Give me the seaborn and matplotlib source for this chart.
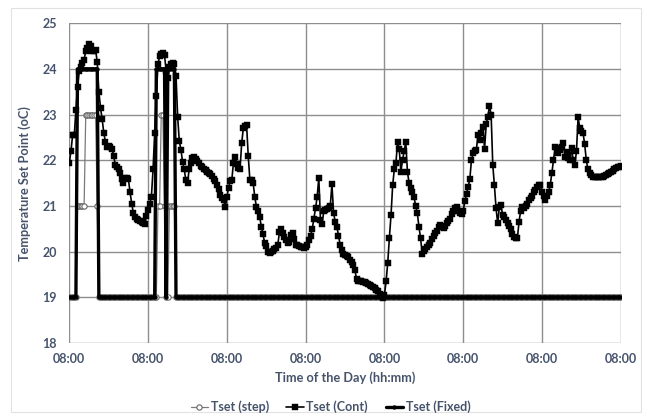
import matplotlib
matplotlib.use("Agg")
import matplotlib.pyplot as plt
import matplotlib.dates as mdates
from matplotlib.patches import Rectangle
import pandas as pd
import seaborn as sns

# Half-hourly set points over one week, each day starting at 08:00
start_time = "2015-07-01 08:00"
step_minutes = 30

tset_cont = [
    # day 1
    21.95, 22.2, 22.55, 22.55, 23.1, 23.6, 23.95, 24.05, 24.12, 24.2, 24.4, 24.45,
    24.55, 24.5, 24.4, 24.4, 24.42, 24.15, 23.5, 23.15, 22.9, 22.6, 22.4, 22.3,
    22.32, 22.3, 22.25, 22.1, 21.9, 21.85, 21.82, 21.72, 21.6, 21.5, 21.62, 21.62,
    21.58, 21.3, 21.05, 20.85, 20.75, 20.72, 20.7, 20.68, 20.66, 20.63, 20.6, 20.78,
    # day 2
    20.92, 21.05, 21.2, 21.8, 22.6, 23.4, 24.1, 24.28, 24.33, 24.36, 24.3, 23.95,
    23.8, 24.05, 24.1, 24.12, 24.1, 23.85, 22.95, 22.42, 22.23, 21.97, 21.8, 21.57,
    21.5, 21.8, 21.95, 22.05, 22.07, 22.02, 21.98, 21.94, 21.88, 21.85, 21.82, 21.79,
    21.75, 21.72, 21.7, 21.65, 21.6, 21.55, 21.45, 21.38, 21.25, 21.18, 21.12, 20.98,
    # day 3
    21.2, 21.4, 21.55, 21.57, 21.95, 22.07, 21.92, 21.83, 21.8, 22.37, 22.7, 22.75,
    22.77, 22.1, 21.57, 21.57, 21.5, 21.2, 20.98, 20.88, 20.75, 20.55, 20.38, 20.2,
    20.12, 20.0, 19.98, 20.0, 20.02, 20.05, 20.08, 20.15, 20.42, 20.5, 20.4, 20.33,
    20.26, 20.2, 20.22, 20.36, 20.4, 20.28, 20.15, 20.14, 20.12, 20.11, 20.1, 20.09,
    # day 4
    20.1, 20.15, 20.25, 20.35, 20.5, 20.72, 20.95, 21.2, 21.62, 20.7, 20.6, 20.88,
    20.92, 20.93, 20.95, 21.0, 21.48, 20.85, 20.65, 20.55, 20.35, 20.15, 20.03, 19.95,
    19.92, 19.9, 19.88, 19.82, 19.78, 19.7, 19.6, 19.4, 19.36, 19.35, 19.35, 19.34,
    19.33, 19.31, 19.3, 19.27, 19.24, 19.22, 19.2, 19.16, 19.13, 19.08, 19.03, 18.99,
    # day 5
    19.05, 19.35, 19.75, 20.3, 20.8, 21.45, 21.8, 21.95, 22.4, 22.25, 21.75, 22.0,
    22.2, 22.4, 21.75, 21.5, 21.4, 21.3, 21.2, 21.0, 20.85, 20.55, 20.3, 19.95,
    20.02, 20.05, 20.1, 20.15, 20.2, 20.28, 20.35, 20.4, 20.45, 20.55, 20.58, 20.55,
    20.52, 20.57, 20.62, 20.68, 20.72, 20.82, 20.9, 20.95, 20.98, 20.9, 20.85, 20.82,
    # day 6
    20.9, 21.1, 21.26, 21.42, 21.58, 22.0, 22.15, 22.2, 22.23, 22.55, 22.45, 22.6,
    22.72, 22.25, 22.8, 22.95, 23.2, 23.0, 21.9, 21.45, 20.95, 20.62, 20.98, 21.02,
    20.8, 20.75, 20.7, 20.63, 20.57, 20.5, 20.38, 20.32, 20.3, 20.3, 20.65, 20.9,
    20.97, 20.95, 21.0, 21.05, 21.12, 21.17, 21.22, 21.3, 21.35, 21.42, 21.46, 21.45,
    # day 7 (plus closing 08:00 reading)
    21.3, 21.22, 21.13, 21.22, 21.3, 21.45, 21.72, 22.0, 22.3, 22.28, 22.15, 22.22,
    22.3, 22.37, 22.08, 22.18, 22.05, 22.0, 22.28, 22.0, 21.9, 22.2, 22.95, 22.7,
    22.65, 22.6, 22.35, 22.0, 21.8, 21.72, 21.68, 21.64, 21.63, 21.63, 21.63, 21.64,
    21.64, 21.64, 21.66, 21.68, 21.7, 21.72, 21.74, 21.77, 21.82, 21.84, 21.86, 21.86,
    21.87,
]

tset_step = [
    # day 1
    19, 19, 19, 19, 19, 21, 21, 21, 21, 21, 23, 23, 23, 23, 23, 23, 23, 21, 19, 19, 19, 19, 19, 19,
    19, 19, 19, 19, 19, 19, 19, 19, 19, 19, 19, 19, 19, 19, 19, 19, 19, 19, 19, 19, 19, 19, 19, 19,
    # day 2
    19, 19, 19, 19, 19, 19, 21, 21, 23, 23, 21, 19, 19, 21, 21, 21, 21, 19, 19, 19, 19, 19, 19, 19,
    19, 19, 19, 19, 19, 19, 19, 19, 19, 19, 19, 19, 19, 19, 19, 19, 19, 19, 19, 19, 19, 19, 19, 19,
    # day 3
    19, 19, 19, 19, 19, 19, 19, 19, 19, 19, 19, 19, 19, 19, 19, 19, 19, 19, 19, 19, 19, 19, 19, 19,
    19, 19, 19, 19, 19, 19, 19, 19, 19, 19, 19, 19, 19, 19, 19, 19, 19, 19, 19, 19, 19, 19, 19, 19,
    # day 4
    19, 19, 19, 19, 19, 19, 19, 19, 19, 19, 19, 19, 19, 19, 19, 19, 19, 19, 19, 19, 19, 19, 19, 19,
    19, 19, 19, 19, 19, 19, 19, 19, 19, 19, 19, 19, 19, 19, 19, 19, 19, 19, 19, 19, 19, 19, 19, 19,
    # day 5
    19, 19, 19, 19, 19, 19, 19, 19, 19, 19, 19, 19, 19, 19, 19, 19, 19, 19, 19, 19, 19, 19, 19, 19,
    19, 19, 19, 19, 19, 19, 19, 19, 19, 19, 19, 19, 19, 19, 19, 19, 19, 19, 19, 19, 19, 19, 19, 19,
    # day 6
    19, 19, 19, 19, 19, 19, 19, 19, 19, 19, 19, 19, 19, 19, 19, 19, 19, 19, 19, 19, 19, 19, 19, 19,
    19, 19, 19, 19, 19, 19, 19, 19, 19, 19, 19, 19, 19, 19, 19, 19, 19, 19, 19, 19, 19, 19, 19, 19,
    # day 7
    19, 19, 19, 19, 19, 19, 19, 19, 19, 19, 19, 19, 19, 19, 19, 19, 19, 19, 19, 19, 19, 19, 19, 19,
    19, 19, 19, 19, 19, 19, 19, 19, 19, 19, 19, 19, 19, 19, 19, 19, 19, 19, 19, 19, 19, 19, 19, 19,
    19,
]

tset_fixed = [
    # day 1
    19, 19, 19, 19, 19, 24, 24, 24, 24, 24, 24, 24, 24, 24, 24, 24, 24, 24, 19, 19, 19, 19, 19, 19,
    19, 19, 19, 19, 19, 19, 19, 19, 19, 19, 19, 19, 19, 19, 19, 19, 19, 19, 19, 19, 19, 19, 19, 19,
    # day 2
    19, 19, 19, 19, 19, 24, 24, 24, 24, 24, 24, 19, 24, 24, 24, 24, 24, 19, 19, 19, 19, 19, 19, 19,
    19, 19, 19, 19, 19, 19, 19, 19, 19, 19, 19, 19, 19, 19, 19, 19, 19, 19, 19, 19, 19, 19, 19, 19,
    # day 3
    19, 19, 19, 19, 19, 19, 19, 19, 19, 19, 19, 19, 19, 19, 19, 19, 19, 19, 19, 19, 19, 19, 19, 19,
    19, 19, 19, 19, 19, 19, 19, 19, 19, 19, 19, 19, 19, 19, 19, 19, 19, 19, 19, 19, 19, 19, 19, 19,
    # day 4
    19, 19, 19, 19, 19, 19, 19, 19, 19, 19, 19, 19, 19, 19, 19, 19, 19, 19, 19, 19, 19, 19, 19, 19,
    19, 19, 19, 19, 19, 19, 19, 19, 19, 19, 19, 19, 19, 19, 19, 19, 19, 19, 19, 19, 19, 19, 19, 19,
    # day 5
    19, 19, 19, 19, 19, 19, 19, 19, 19, 19, 19, 19, 19, 19, 19, 19, 19, 19, 19, 19, 19, 19, 19, 19,
    19, 19, 19, 19, 19, 19, 19, 19, 19, 19, 19, 19, 19, 19, 19, 19, 19, 19, 19, 19, 19, 19, 19, 19,
    # day 6
    19, 19, 19, 19, 19, 19, 19, 19, 19, 19, 19, 19, 19, 19, 19, 19, 19, 19, 19, 19, 19, 19, 19, 19,
    19, 19, 19, 19, 19, 19, 19, 19, 19, 19, 19, 19, 19, 19, 19, 19, 19, 19, 19, 19, 19, 19, 19, 19,
    # day 7
    19, 19, 19, 19, 19, 19, 19, 19, 19, 19, 19, 19, 19, 19, 19, 19, 19, 19, 19, 19, 19, 19, 19, 19,
    19, 19, 19, 19, 19, 19, 19, 19, 19, 19, 19, 19, 19, 19, 19, 19, 19, 19, 19, 19, 19, 19, 19, 19,
    19,
]

series_names = ["Tset (step)", "Tset (Cont)", "Tset (Fixed)"]
y_ticks = [18, 19, 20, 21, 22, 23, 24, 25]
x_title = "Time of the Day (hh:mm)"
y_title = "Temperature Set Point (oC)"

times = pd.date_range(start_time, periods=len(tset_cont), freq=f"{step_minutes}min")
df = pd.DataFrame({"time": times, "step": tset_step, "cont": tset_cont, "fixed": tset_fixed})

sns.set_theme(style="white")
plt.rcParams["font.family"] = ["Lato", "DejaVu Sans"]
text_color = "#46536b"
grid_color = "#8e8e8e"

fig = plt.figure(figsize=(6.48, 4.19), dpi=100)
fig.patch.set_facecolor("white")
fig.add_artist(Rectangle((0.017, 0.016), 0.972, 0.966, transform=fig.transFigure,
                         fill=False, edgecolor="#e2e2e2", linewidth=0.8))
ax = fig.add_axes([0.107, 0.1814, 0.851, 0.763])

sns.lineplot(data=df, x="time", y="step", ax=ax, color="#7a7a7a", linewidth=0.9,
             marker="o", markersize=3.8, markerfacecolor="white",
             markeredgecolor="#666666", markeredgewidth=0.8,
             label=series_names[0], zorder=3)
sns.lineplot(data=df, x="time", y="cont", ax=ax, color="black", linewidth=1.2,
             marker="s", markersize=4.2, markerfacecolor="black",
             markeredgecolor="black", markeredgewidth=0.3,
             label=series_names[1], zorder=4)
sns.lineplot(data=df, x="time", y="fixed", ax=ax, color="black", linewidth=2.4,
             marker="o", markersize=2.8, markerfacecolor="black",
             markeredgecolor="black", markeredgewidth=0.3,
             label=series_names[2], zorder=5)

ax.set_xlim(times[0], times[-1])
ax.set_ylim(y_ticks[0], y_ticks[-1])
ax.set_yticks(y_ticks)
ax.set_yticklabels([str(v) for v in y_ticks])
ax.xaxis.set_major_locator(mdates.HourLocator(byhour=[8]))
ax.xaxis.set_major_formatter(mdates.DateFormatter("%H:%M"))

ax.grid(True, color=grid_color, linewidth=1.0)
ax.set_axisbelow(True)
for s in ax.spines.values():
    s.set_visible(False)
ax.tick_params(axis="both", length=0, labelsize=9, colors=text_color)
ax.tick_params(axis="y", pad=9)
ax.tick_params(axis="x", pad=7)
for lbl in ax.get_xticklabels() + ax.get_yticklabels():
    lbl.set_fontweight("bold")

ax.set_xlabel(x_title, fontsize=9.2, fontweight="bold", color=text_color, labelpad=5)
ax.set_ylabel(y_title, fontsize=9.2, fontweight="bold", color=text_color, labelpad=8)

handles, labels = ax.get_legend_handles_labels()
ax.get_legend().remove()
fig.legend(handles, labels, loc="center", bbox_to_anchor=(0.51, 0.029), ncol=3,
           frameon=False, handlelength=1.4, handletextpad=0.2,
           columnspacing=1.4, labelcolor=text_color, prop={"weight": "bold", "size": 9})

fig.savefig("out.png", dpi=100, facecolor="white")
